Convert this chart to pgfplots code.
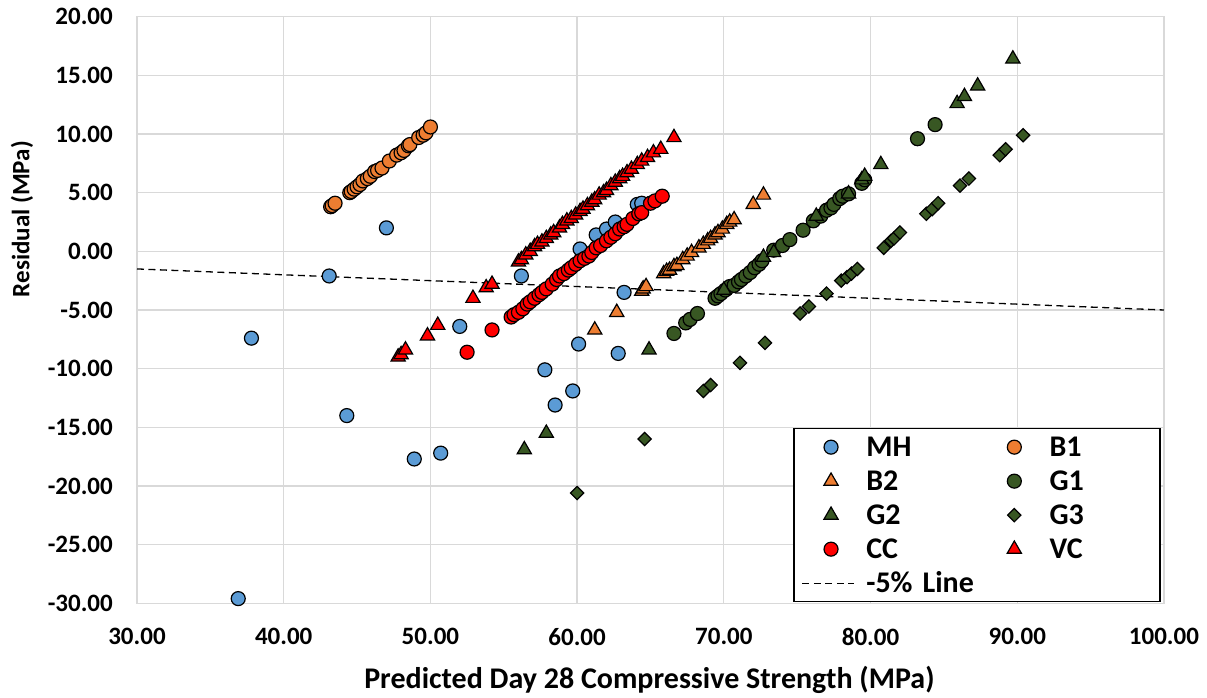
\documentclass[border=0pt]{standalone}
\usepackage{pgfplots}
\pgfplotsset{compat=1.18}
\usepackage{fontspec}
\setmainfont{Carlito}
\definecolor{mhblue}{RGB}{91,155,213}
\definecolor{borange}{RGB}{237,125,49}
\definecolor{dgreen}{RGB}{56,87,35}
\definecolor{gridgray}{RGB}{217,217,217}
\pgfplotsset{
  mk/.style={only marks,
    legend image code/.code={\path[draw=none,fill=none] (-26pt,-5pt) rectangle (12.7pt,5pt); \draw[##1] plot coordinates {(0pt,0pt)};}},
  circ/.style={mk, mark=*, mark size=7pt, mark options={draw=black, fill=#1, line width=1.2pt}},
  tri/.style={mk, mark=triangle*, mark size=8.2pt, mark options={draw=black, fill=#1, line width=1.2pt}},
  dia/.style={mk, mark=square*, mark size=4.7pt, mark options={draw=black, fill=#1, line width=1.2pt, rotate=45}},
  dashleg/.style={legend image code/.code={\path[draw=none,fill=none] (-26pt,-5pt) rectangle (12.7pt,5pt); \draw[##1, fill=none, overlay] (-28.7pt,0pt) -- (23.3pt,0pt);}},
}
\begin{document}
\begin{tikzpicture}
\path[use as bounding box] (-137pt,-94.7pt) rectangle (1070pt,603.3pt);
\begin{axis}[
  at={(0pt,0pt)}, anchor=south west, scale only axis,
  width=1027pt, height=586.6pt,
  xmin=30, xmax=100, ymin=-30, ymax=20,
  xtick distance=10, ytick distance=5,
  scaled ticks=false,
  clip=false,
  grid=major,
  major grid style={gridgray, line width=1.3pt},
  axis line style={gridgray, line width=1.3pt},
  major tick length=0pt,
  tick style={draw=none},
  xticklabel style={font=\bfseries\fontsize{25}{30}\selectfont, anchor=north, inner sep=0pt, yshift=-24.7pt,
    /pgf/number format/fixed, /pgf/number format/fixed zerofill, /pgf/number format/precision=2,
    /pgf/number format/assume math mode=true},
  yticklabel style={font=\bfseries\fontsize{25}{30}\selectfont, anchor=east, inner sep=0pt, xshift=-24pt,
    /pgf/number format/fixed, /pgf/number format/fixed zerofill, /pgf/number format/precision=2,
    /pgf/number format/assume math mode=true},
  xlabel={Predicted Day 28 Compressive Strength (MPa)},
  xlabel style={font=\bfseries\fontsize{30}{36}\selectfont, at={(axis description cs:0.499,-0.1444)}, anchor=base},
  ylabel={Residual (MPa)},
  ylabel style={font=\bfseries\fontsize{25}{30}\selectfont, at={(axis description cs:-0.112,0.655)}, anchor=center},
  legend columns=2,
  legend style={at={(0.9968,0.0017)}, anchor=south east, draw=black, line width=1.3pt,
    inner xsep=11pt, inner ysep=1.5pt, column sep=22.6pt, row sep=0pt,
    font=\bfseries\fontsize{30}{36}\selectfont,
    nodes={inner sep=0pt, text width=99.4pt, align=left, text height=26.3pt, text depth=7.7pt}},
]
% MH
\addplot[circ=mhblue] coordinates {
(36.9,-29.6) (37.8,-7.4) (43.1,-2.1) (44.3,-14.0) (47.0,2.0) (48.9,-17.7) (50.7,-17.2)
(52.0,-6.4) (56.2,-2.1) (57.8,-10.1) (58.5,-13.1) (59.7,-11.9) (60.1,-7.9) (60.2,0.2)
(61.3,1.4) (62.0,1.9) (62.6,2.5) (62.8,-8.7) (63.2,-3.5) (64.1,4.0) (64.4,4.1)
};
\addlegendentry{MH}
% B1
\addplot[circ=borange] coordinates {
(43.2,3.8) (43.3,3.9) (43.5,4.1) (44.5,5.0) (44.6,5.1) (44.8,5.3) (45.0,5.5) (45.2,5.7)
(45.4,6.0) (45.7,6.2) (45.9,6.4) (46.2,6.8) (46.4,6.9) (46.7,7.1) (47.2,7.7) (47.7,8.2)
(48.0,8.4) (48.2,8.6) (48.5,9.0) (48.6,9.1) (49.2,9.7) (49.5,9.9) (49.7,10.1) (50.0,10.6)
};
\addlegendentry{B1}
% B2
\addplot[tri=borange] coordinates {
(61.2,-6.7) (62.7,-5.2) (64.4,-3.4) (64.5,-3.2) (64.7,-3.0) (65.9,-1.9) (66.1,-1.7)
(66.3,-1.6) (66.6,-1.3) (66.8,-1.2) (67.2,-0.7) (67.5,-0.4) (67.8,-0.1) (68.3,0.3)
(68.6,0.6) (68.9,0.9) (69.1,1.1) (69.4,1.4) (69.6,1.6) (69.9,1.9) (70.2,2.3) (70.4,2.5)
(70.7,2.7) (72.0,4.0) (72.7,4.8)
};
\addlegendentry{B2}
% G1
\addplot[circ=dgreen] coordinates {
(66.6,-7.0) (67.4,-6.1) (67.7,-5.8) (68.2,-5.3) (69.4,-4.0) (69.6,-3.8) (69.8,-3.6)
(70.1,-3.3) (70.4,-3.0) (70.7,-2.9) (71.0,-2.6) (71.2,-2.4) (71.5,-2.1) (71.8,-1.8)
(72.1,-1.4) (72.4,-1.1) (72.6,-0.8) (73.4,0.1) (74.0,0.5) (74.5,1.0) (75.4,1.8)
(76.1,2.6) (76.6,3.0) (77.0,3.5) (77.3,3.7) (77.5,4.0) (77.9,4.5) (78.1,4.7) (78.5,4.9)
(79.4,5.8) (79.6,6.1) (83.2,9.6) (84.4,10.8)
};
\addlegendentry{G1}
% G2
\addplot[tri=dgreen] coordinates {
(56.4,-16.9) (57.9,-15.5) (64.9,-8.4) (70.0,-3.3) (72.7,-0.5) (73.4,-0.1) (76.3,3.0)
(78.5,4.9) (79.4,6.1) (79.6,6.4) (80.7,7.4) (85.9,12.6) (86.4,13.2) (87.3,14.1) (89.7,16.4)
};
\addlegendentry{G2}
% G3
\addplot[dia=dgreen] coordinates {
(60.0,-20.6) (64.6,-16.0) (68.6,-11.9) (69.1,-11.4) (71.1,-9.5) (72.8,-7.8) (75.2,-5.3)
(75.8,-4.7) (77.0,-3.6) (78.0,-2.5) (78.4,-2.2) (78.7,-1.9) (79.1,-1.5) (80.9,0.3)
(81.4,0.9) (81.6,1.1) (82.0,1.6) (83.8,3.2) (84.2,3.6) (84.6,4.1) (86.1,5.6) (86.7,6.2)
(88.8,8.2) (89.2,8.7) (90.4,9.9)
};
\addlegendentry{G3}
% CC
\addplot[circ=red] coordinates {
(52.5,-8.6) (54.2,-6.7) (55.5,-5.6) (55.7,-5.4) (56.0,-5.2) (56.3,-4.9) (56.6,-4.5)
(56.8,-4.3) (57.1,-4.0) (57.4,-3.7) (57.6,-3.5) (57.9,-3.2) (58.3,-2.8) (58.6,-2.4)
(58.8,-2.1) (59.1,-1.9) (59.4,-1.6) (59.6,-1.4) (59.9,-1.1) (60.2,-0.8) (60.5,-0.6)
(60.8,-0.4) (61.0,-0.1) (61.3,0.3) (61.6,0.5) (62.0,0.9) (62.3,1.2) (62.6,1.5)
(62.9,1.9) (63.2,2.1) (63.4,2.3) (63.8,2.8) (64.2,3.2) (64.4,3.3) (65.0,4.1) (65.3,4.3)
(65.8,4.7)
};
\addlegendentry{CC}
% VC
\addplot[tri=red] coordinates {
(47.8,-9.0) (48.0,-8.8) (48.3,-8.4) (49.8,-7.2) (50.5,-6.3) (52.9,-4.0) (53.8,-3.1)
(54.2,-2.8) (56.0,-0.9) (56.2,-0.7) (56.5,-0.3) (56.8,0.0) (57.1,0.4) (57.3,0.6)
(57.6,0.8) (57.9,1.1) (58.2,1.4) (58.4,1.6) (58.8,2.0) (59.0,2.3) (59.3,2.6) (59.6,2.8)
(59.9,3.1) (60.2,3.4) (60.4,3.6) (60.7,3.9) (61.0,4.2) (61.2,4.4) (61.5,4.8) (61.8,5.0)
(62.0,5.2) (62.3,5.6) (62.6,5.9) (62.9,6.2) (63.1,6.4) (63.4,6.7) (63.7,7.0) (64.1,7.4)
(64.4,7.7) (64.8,8.0) (65.2,8.4) (65.7,8.7) (66.6,9.7)
};
\addlegendentry{VC}
% -5% line
\addplot[black, line width=1.3pt, dash pattern=on 7pt off 4.5pt, no marks, dashleg]
  coordinates {(30,-1.5) (100,-5.0)};
\addlegendentry{\mbox{-5\%~Line}}
\end{axis}
\end{tikzpicture}
\end{document}
